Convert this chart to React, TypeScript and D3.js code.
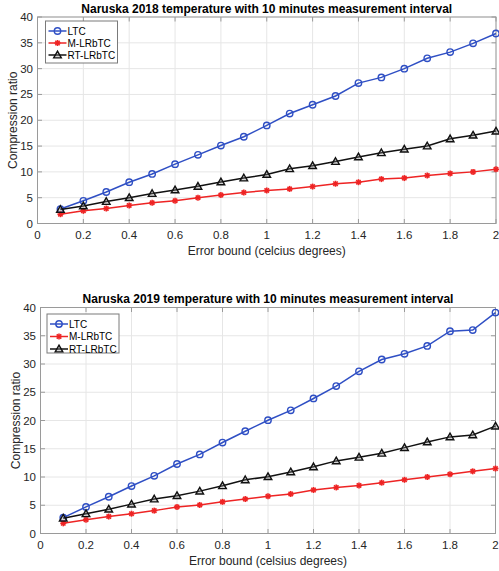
import React from "react";
import * as d3 from "d3";

// Error bounds (°C) shared by both experiments
const errorBounds = [0.1, 0.2, 0.3, 0.4, 0.5, 0.6, 0.7, 0.8, 0.9, 1.0, 1.1, 1.2, 1.3, 1.4, 1.5, 1.6, 1.7, 1.8, 1.9, 2.0];

// Naruska 2018
const ltc2018 = [2.8, 4.4, 6.1, 8.0, 9.6, 11.5, 13.3, 15.1, 16.8, 19.0, 21.3, 23.0, 24.7, 27.2, 28.3, 30.0, 32.0, 33.2, 34.9, 36.8];
const mlrbtc2018 = [1.8, 2.45, 2.9, 3.5, 4.0, 4.4, 5.0, 5.5, 6.0, 6.4, 6.7, 7.15, 7.7, 8.0, 8.6, 8.8, 9.3, 9.7, 10.0, 10.5];
const rtlrbtc2018 = [2.7, 3.4, 4.25, 5.0, 5.8, 6.5, 7.2, 8.05, 8.8, 9.5, 10.6, 11.2, 12.0, 12.9, 13.7, 14.4, 15.0, 16.4, 17.1, 17.9];

// Naruska 2019
const ltc2019 = [2.8, 4.7, 6.5, 8.4, 10.2, 12.3, 14.0, 16.1, 18.1, 20.05, 21.8, 23.9, 26.1, 28.7, 30.8, 31.8, 33.2, 35.8, 36.0, 39.1];
const mlrbtc2019 = [1.8, 2.45, 3.0, 3.5, 4.05, 4.7, 5.05, 5.6, 6.1, 6.6, 7.0, 7.7, 8.15, 8.5, 9.0, 9.5, 10.0, 10.5, 11.0, 11.5];
const rtlrbtc2019 = [2.7, 3.5, 4.3, 5.2, 6.1, 6.7, 7.5, 8.45, 9.5, 10.05, 10.9, 11.8, 12.85, 13.5, 14.2, 15.2, 16.2, 17.1, 17.45, 19.0];

const seriesNames = ["LTC", "M-LRbTC", "RT-LRbTC"];
const xTicks = [0, 0.2, 0.4, 0.6, 0.8, 1, 1.2, 1.4, 1.6, 1.8, 2];
const yTicks = [0, 5, 10, 15, 20, 25, 30, 35, 40];

const FONT = "'Liberation Sans', Arial, Helvetica, sans-serif";
const AXIS_COLOR = "#9a9a9a";
const GRID_COLOR = "#e6e6e6";
const COLORS = ["#2f4fc4", "#ee2424", "#111111"];

type MarkerKind = "circle" | "star" | "triangle";
const MARKERS: MarkerKind[] = ["circle", "star", "triangle"];

function Marker({ kind, x, y, color }: { kind: MarkerKind; x: number; y: number; color: string }) {
  if (kind === "circle") {
    return <circle cx={x} cy={y} r={3.2} fill="none" stroke={color} strokeWidth={1.4} />;
  }
  if (kind === "triangle") {
    const s = 3.8;
    const pts = `${x},${y - s} ${x + s},${y + s * 0.75} ${x - s},${y + s * 0.75}`;
    return <polygon points={pts} fill="#8a8a8a" fillOpacity={0.35} stroke={color} strokeWidth={1.4} />;
  }
  const s = 3;
  const d = 2.2;
  return (
    <g stroke={color} strokeWidth={1.6}>
      <line x1={x - s} y1={y} x2={x + s} y2={y} />
      <line x1={x} y1={y - s} x2={x} y2={y + s} />
      <line x1={x - d} y1={y - d} x2={x + d} y2={y + d} />
      <line x1={x - d} y1={y + d} x2={x + d} y2={y - d} />
    </g>
  );
}

interface PanelProps {
  title: string;
  xLabel: string;
  series: number[][];
  left: number;
  right: number;
  top: number;
  bottom: number;
  legend: { x: number; y: number; w: number; h: number; row: number };
}

function Panel({ title, xLabel, series, left, right, top, bottom, legend }: PanelProps) {
  const x = d3.scaleLinear().domain([0, 2]).range([left, right]);
  const y = d3.scaleLinear().domain([0, 40]).range([bottom, top]);
  const line = d3
    .line<number>()
    .x((_, i) => x(errorBounds[i]))
    .y((v) => y(v));
  const tickLen = 4.5;
  const fmt = (v: number) => String(+v.toFixed(1));

  return (
    <g fontFamily={FONT}>
      <rect x={left} y={top} width={right - left} height={bottom - top} fill="#fff" />
      {/* grid */}
      {xTicks.map((t) => (
        <line key={`gx${t}`} x1={x(t)} x2={x(t)} y1={top} y2={bottom} stroke={GRID_COLOR} strokeWidth={1} />
      ))}
      {yTicks.map((t) => (
        <line key={`gy${t}`} x1={left} x2={right} y1={y(t)} y2={y(t)} stroke={GRID_COLOR} strokeWidth={1} />
      ))}
      {/* box and inward ticks */}
      <rect x={left} y={top} width={right - left} height={bottom - top} fill="none" stroke={AXIS_COLOR} strokeWidth={1} />
      {xTicks.map((t) => (
        <g key={`tx${t}`} stroke={AXIS_COLOR}>
          <line x1={x(t)} x2={x(t)} y1={bottom} y2={bottom - tickLen} />
          <line x1={x(t)} x2={x(t)} y1={top} y2={top + tickLen} />
        </g>
      ))}
      {yTicks.map((t) => (
        <g key={`ty${t}`} stroke={AXIS_COLOR}>
          <line x1={left} x2={left + tickLen} y1={y(t)} y2={y(t)} />
          <line x1={right} x2={right - tickLen} y1={y(t)} y2={y(t)} />
        </g>
      ))}
      {/* tick labels */}
      {xTicks.map((t) => (
        <text key={`lx${t}`} x={x(t)} y={bottom + 15} textAnchor="middle" fontSize={11.5} fill="#262626">
          {fmt(t)}
        </text>
      ))}
      {yTicks.map((t) => (
        <text key={`ly${t}`} x={left - 4.5} y={y(t) + 4} textAnchor="end" fontSize={11.5} fill="#262626">
          {t}
        </text>
      ))}
      {/* axis labels and title */}
      <text x={(left + right) / 2} y={bottom + 31} textAnchor="middle" fontSize={12} fill="#262626">
        {xLabel}
      </text>
      <text
        transform={`translate(${left - 21},${(top + bottom) / 2}) rotate(-90)`}
        textAnchor="middle"
        fontSize={12}
        fill="#262626"
      >
        Compression ratio
      </text>
      <text x={(left + right) / 2} y={top - 4.5} textAnchor="middle" fontSize={12} fontWeight="bold" fill="#000">
        {title}
      </text>
      {/* series */}
      {series.map((vals, si) => (
        <g key={`s${si}`}>
          <path d={line(vals) ?? ""} fill="none" stroke={COLORS[si]} strokeWidth={1.5} />
          {vals.map((v, i) => (
            <Marker key={i} kind={MARKERS[si]} x={x(errorBounds[i])} y={y(v)} color={COLORS[si]} />
          ))}
        </g>
      ))}
      {/* legend */}
      <rect x={legend.x} y={legend.y} width={legend.w} height={legend.h} fill="#fff" stroke="#7a7a7a" strokeWidth={1} />
      {seriesNames.map((name, si) => {
        const ry = legend.y + 10 + si * legend.row;
        return (
          <g key={name}>
            <line x1={legend.x + 3} x2={legend.x + 21} y1={ry} y2={ry} stroke={COLORS[si]} strokeWidth={1.5} />
            <Marker kind={MARKERS[si]} x={legend.x + 12} y={ry} color={COLORS[si]} />
            <text x={legend.x + 22} y={ry + 3.6} fontSize={10} fill="#000">
              {name}
            </text>
          </g>
        );
      })}
    </g>
  );
}

export default function App() {
  return (
    <svg
      width={499}
      height={571}
      viewBox="0 0 499 571"
      style={{ position: "absolute", left: 0, top: 0, background: "#fff" }}
    >
      <rect x={0} y={0} width={499} height={571} fill="#fff" />
      <Panel
        title="Naruska 2018 temperature with 10 minutes measurement interval"
        xLabel="Error bound (celcius degrees)"
        series={[ltc2018, mlrbtc2018, rtlrbtc2018]}
        left={37.5}
        right={496}
        top={17}
        bottom={223.5}
        legend={{ x: 45.5, y: 21, w: 72, h: 42, row: 12 }}
      />
      <Panel
        title="Naruska 2019 temperature with 10 minutes measurement interval"
        xLabel="Error bound (celsius degrees)"
        series={[ltc2019, mlrbtc2019, rtlrbtc2019]}
        left={40.5}
        right={495.5}
        top={307.5}
        bottom={533.5}
        legend={{ x: 47, y: 314, w: 72, h: 39, row: 12.5 }}
      />
    </svg>
  );
}
